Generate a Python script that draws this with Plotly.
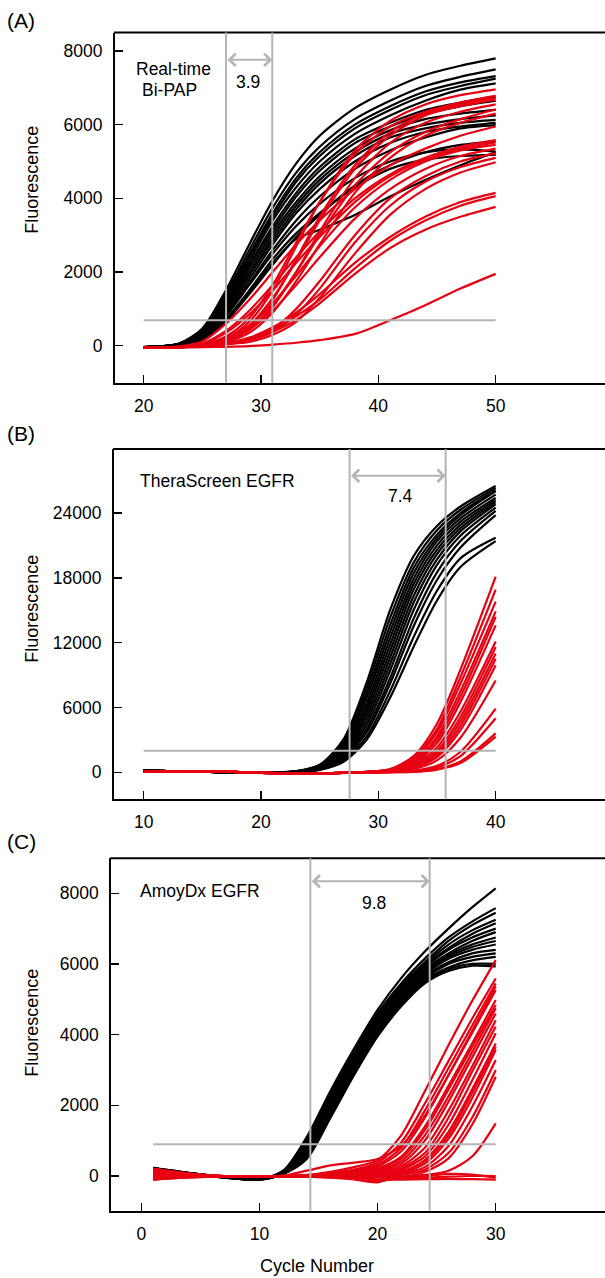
import plotly.graph_objects as go

W, H = 605, 1278

# ---------------- data ----------------
CYC_A = [20, 23, 25, 27, 29, 31, 33, 35, 38, 41, 44, 47, 50]
A_BLACK = [
    [-40, 60, 470, 1500, 2750, 3950, 4950, 5700, 6450, 6950, 7350, 7600, 7800],
    [-40, 55, 430, 1400, 2600, 3750, 4700, 5400, 6150, 6650, 7050, 7300, 7500],
    [-40, 50, 400, 1320, 2480, 3600, 4550, 5250, 6000, 6500, 6900, 7150, 7320],
    [-40, 50, 380, 1250, 2400, 3500, 4450, 5150, 5900, 6400, 6800, 7050, 7250],
    [-40, 45, 360, 1200, 2300, 3400, 4300, 5000, 5750, 6250, 6650, 6950, 7120],
    [-40, 45, 340, 1150, 2200, 3250, 4150, 4850, 5600, 6050, 6400, 6600, 6760],
    [-40, 40, 320, 1100, 2150, 3150, 4050, 4750, 5500, 5950, 6300, 6500, 6650],
    [-40, 40, 300, 1050, 2050, 3050, 3900, 4600, 5350, 5850, 6150, 6300, 6400],
    [-40, 35, 290, 1000, 1950, 2950, 3800, 4500, 5250, 5750, 6000, 6150, 6250],
    [-40, 35, 270, 950, 1900, 2850, 3700, 4400, 5150, 5650, 5900, 6050, 6130],
    [-40, 30, 250, 900, 1800, 2750, 3600, 4250, 5000, 5500, 5800, 5950, 6050],
    [-40, 30, 230, 850, 1700, 2600, 3400, 4050, 4800, 5300, 5650, 5900, 5990],
    [-40, 25, 210, 800, 1650, 2500, 3250, 3850, 4550, 5000, 5250, 5330, 5270],
    [-40, 25, 190, 720, 1500, 2350, 3050, 3600, 4300, 4800, 5050, 5150, 5180],
    [-40, 20, 180, 700, 1450, 2250, 2900, 3150, 3550, 4050, 4500, 4900, 5250],
    [-40, 20, 170, 650, 1400, 2200, 2950, 3550, 4350, 4900, 5250, 5450, 5550],
]
A_RED = [
    [-60, -40, 20, 200, 650, 1500, 2700, 3900, 5300, 6100, 6550, 6800, 6960],
    [-60, -40, 30, 250, 750, 1650, 2800, 3900, 5200, 5950, 6350, 6600, 6780],
    [-60, -40, 10, 150, 500, 1250, 2350, 3500, 4900, 5800, 6300, 6550, 6720],
    [-60, -40, 20, 180, 550, 1300, 2300, 3400, 4800, 5700, 6250, 6500, 6680],
    [-60, -40, 0, 120, 420, 1050, 2000, 3100, 4550, 5500, 6050, 6350, 6550],
    [-60, -40, 10, 140, 450, 1100, 2000, 3000, 4350, 5250, 5800, 6150, 6420],
    [-60, -40, 0, 100, 350, 900, 1750, 2750, 4150, 5100, 5700, 6050, 6300],
    [-60, -20, 120, 600, 1250, 2000, 2750, 3400, 4250, 4900, 5350, 5700, 5950],
    [-60, -30, 60, 400, 950, 1650, 2400, 3100, 4000, 4650, 5100, 5400, 5580],
    [-60, -30, 50, 350, 850, 1500, 2250, 2950, 3900, 4600, 5050, 5350, 5520],
    [-60, -40, 20, 200, 550, 1150, 1900, 2700, 3750, 4500, 5000, 5300, 5450],
    [-60, -40, 10, 150, 450, 950, 1650, 2400, 3450, 4250, 4800, 5150, 5350],
    [-60, -40, 0, 80, 200, 450, 1000, 1750, 3000, 4000, 4600, 5000, 5220],
    [-60, -40, 0, 60, 150, 380, 850, 1550, 2800, 3800, 4450, 4850, 5100],
    [-60, -40, -10, 40, 100, 300, 650, 1300, 2500, 3550, 4250, 4700, 4980],
    [-60, -40, 0, 60, 220, 500, 900, 1400, 2250, 2950, 3500, 3900, 4150],
    [-60, -40, -10, 50, 180, 430, 800, 1250, 2100, 2850, 3400, 3800, 4060],
    [-60, -40, -10, 40, 150, 370, 700, 1150, 1950, 2650, 3150, 3500, 3770],
    [-60, -50, -40, -30, -10, 30, 80, 150, 320, 690, 1100, 1550, 1950],
]

CYC_B = [10, 15, 20, 23, 25, 27, 29, 31, 33, 35, 37, 40]
B_BLACK = [
    [150, 50, -60, 100, 700, 3000, 8300, 15000, 20000, 22800, 24600, 26500],
    [150, 50, -60, 90, 650, 2800, 7800, 14300, 19400, 22400, 24300, 26300],
    [150, 50, -60, 80, 600, 2600, 7300, 13600, 18900, 22000, 24000, 26100],
    [150, 50, -60, 80, 550, 2400, 6900, 13000, 18400, 21700, 23800, 26000],
    [150, 50, -60, 70, 500, 2200, 6400, 12400, 17900, 21400, 23500, 25700],
    [150, 50, -60, 70, 450, 2000, 6000, 11800, 17400, 21000, 23200, 25400],
    [150, 50, -60, 60, 420, 1850, 5600, 11200, 16900, 20600, 22900, 25200],
    [150, 50, -60, 60, 400, 1700, 5200, 10600, 16300, 20200, 22600, 25000],
    [150, 50, -60, 50, 350, 1550, 4800, 10000, 15700, 19700, 22300, 24800],
    [150, 50, -60, 50, 320, 1400, 4400, 9400, 15000, 19200, 21900, 24500],
    [150, 50, -60, 40, 300, 1300, 4000, 8700, 14200, 18500, 21400, 24200],
    [150, 50, -60, 40, 280, 1200, 3700, 8200, 13500, 17800, 20800, 23800],
    [150, 50, -60, 30, 250, 1050, 3300, 7500, 12500, 16800, 19800, 21700],
    [150, 50, -60, 30, 220, 950, 3000, 6900, 11600, 15900, 19000, 21400],
]
B_RED = [
    [50, 100, -50, -100, -100, -50, 50, 300, 1500, 4500, 9500, 18100],
    [50, 100, -50, -100, -100, -50, 40, 250, 1300, 4000, 8800, 16900],
    [50, 100, -50, -100, -100, -50, 40, 250, 1200, 3700, 8200, 15800],
    [50, 100, -50, -100, -100, -50, 30, 200, 1000, 3300, 7500, 14900],
    [50, 100, -50, -100, -100, -50, 30, 180, 900, 3000, 7000, 14400],
    [50, 100, -50, -100, -100, -50, 20, 150, 800, 2700, 6500, 13600],
    [50, 100, -50, -100, -100, -50, 20, 120, 650, 2300, 5600, 12100],
    [50, 100, -50, -100, -100, -50, 10, 100, 550, 2000, 5100, 11600],
    [50, 100, -50, -100, -100, -50, 10, 100, 500, 1800, 4700, 11000],
    [50, 100, -50, -100, -100, -50, 0, 80, 450, 1600, 4300, 10500],
    [50, 100, -50, -100, -100, -50, 0, 70, 400, 1400, 3900, 9900],
    [50, 100, -50, -100, -100, -50, 0, 60, 300, 1100, 3200, 8500],
    [50, 100, -50, -100, -100, -50, -10, 30, 150, 600, 1900, 5900],
    [50, 100, -50, -100, -100, -50, -10, 20, 100, 450, 1500, 5000],
    [50, 100, -50, -100, -100, -50, -10, 10, 60, 300, 1000, 3600],
    [50, 100, -50, -100, -100, -50, -20, 0, 40, 250, 850, 3300],
]

CYC_C = [1, 4, 7, 10, 12, 14, 16, 18, 20, 22, 24, 26, 28, 30]
C_BLACK = [
    [230, 90, -20, -80, 150, 1100, 2400, 3600, 4700, 5600, 6350, 7000, 7600, 8140],
    [230, 90, -20, -80, 140, 1000, 2300, 3500, 4600, 5450, 6150, 6750, 7200, 7580],
    [220, 85, -25, -85, 130, 950, 2200, 3450, 4550, 5400, 6050, 6650, 7100, 7450],
    [220, 85, -25, -85, 120, 900, 2150, 3400, 4500, 5350, 6000, 6550, 6950, 7250],
    [210, 80, -30, -90, 110, 850, 2100, 3350, 4450, 5300, 5950, 6450, 6850, 7150],
    [210, 80, -30, -90, 100, 800, 2050, 3300, 4400, 5250, 5900, 6400, 6750, 7000],
    [200, 75, -30, -90, 95, 760, 2000, 3250, 4350, 5200, 5850, 6300, 6650, 6900],
    [200, 75, -35, -95, 90, 720, 1950, 3200, 4300, 5150, 5800, 6250, 6550, 6750],
    [190, 70, -35, -95, 85, 680, 1900, 3150, 4250, 5100, 5750, 6200, 6480, 6650],
    [190, 70, -35, -95, 80, 640, 1850, 3100, 4200, 5050, 5700, 6150, 6400, 6550],
    [180, 65, -40, -100, 75, 600, 1800, 3050, 4150, 5000, 5650, 6050, 6300, 6400],
    [180, 65, -40, -100, 70, 570, 1760, 3000, 4100, 4950, 5600, 6000, 6200, 6300],
    [170, 60, -40, -100, 65, 540, 1720, 2950, 4050, 4900, 5550, 5900, 6100, 6200],
    [170, 60, -45, -100, 60, 510, 1680, 2900, 4000, 4850, 5500, 5850, 6000, 6000],
    [160, 55, -45, -105, 55, 480, 1640, 2850, 3950, 4800, 5450, 5800, 5950, 5930],
]
C_RED = [
    [150, 60, 0, -20, 0, 30, 120, 250, 450, 1150, 2400, 3700, 4950, 6110],
    [100, 40, -10, -20, 0, 20, 80, 180, 380, 950, 2050, 3250, 4450, 5590],
    [50, 20, -10, -20, 0, 20, 60, 150, 320, 800, 1850, 3050, 4250, 5450],
    [0, 10, -10, -20, 0, 10, 50, 120, 270, 700, 1650, 2850, 4100, 5360],
    [200, 70, 0, -10, 10, 150, 300, 380, 480, 850, 1700, 2850, 4050, 5260],
    [-50, -20, -10, -20, 0, 10, 40, 100, 220, 550, 1400, 2550, 3750, 4980],
    [120, 50, 0, -20, 0, 10, 40, 90, 200, 500, 1300, 2450, 3650, 4840],
    [-80, -30, -10, -20, -10, 0, 30, 80, 170, 420, 1150, 2250, 3500, 4750],
    [80, 30, -10, -20, -10, 0, 20, 60, 140, 350, 1000, 2100, 3350, 4600],
    [-30, -10, -10, -20, -10, 0, 20, 50, 100, 280, 800, 1850, 3100, 4410],
    [180, 60, 0, -20, -10, -10, 0, 20, 80, 220, 650, 1650, 2950, 4230],
    [30, 10, -10, -20, -10, -10, 0, 10, 50, 170, 550, 1450, 2700, 4040],
    [-100, -40, -20, -20, -10, -20, -50, -100, -180, 80, 450, 1250, 2450, 3750],
    [60, 20, -10, -20, -10, -10, 0, 10, 30, 120, 420, 1150, 2350, 3660],
    [-60, -20, -10, -20, -10, -10, -10, 0, 20, 90, 350, 1050, 2200, 3570],
    [140, 50, 0, -20, -10, -10, -10, -20, 0, 60, 250, 850, 1950, 3280],
    [10, 0, -10, -20, -10, -10, -10, -20, -20, 30, 180, 650, 1650, 3000],
    [-90, -30, -10, -20, -10, -20, -40, -80, -150, -50, 120, 500, 1450, 2810],
    [90, 30, -10, -20, -10, -10, -10, -20, -30, -20, 30, 150, 550, 1490],
    [200, 70, 0, -20, -10, -10, -10, -20, -30, -20, 0, 60, 40, -50],
    [-100, -40, -10, -20, -10, -10, -30, -60, -100, -100, -90, -80, -90, -100],
    [0, 0, -10, -20, -10, -10, -10, -20, -40, -60, -50, -20, 0, 0],
]

PANEL_LABELS = ["(A)", "(B)", "(C)"]
ASSAY_NAMES = [["Real-time", "Bi-PAP"], ["TheraScreen EGFR"], ["AmoyDx EGFR"]]
DELTA_TEXT = ["3.9", "7.4", "9.8"]
CT_LINES = [[27.02, 30.96], [27.55, 35.74], [14.31, 24.41]]
THRESHOLDS = [690, 2000, 897]
THRESH_SPAN = [[20, 50], [10, 40], [1, 30]]
ARROW_Y = [7760, 27450, 8340]
X_TICKS = [[20, 30, 40, 50], [10, 20, 30, 40], [0, 10, 20, 30]]
Y_TICKS = [[0, 2000, 4000, 6000, 8000], [0, 6000, 12000, 18000, 24000],
           [0, 2000, 4000, 6000, 8000]]
X_RANGES = [[17.554, 59.32], [7.469, 49.32], [-2.54, 39.25]]
Y_RANGES = [[-1004, 8502], [-2500, 29924], [-982, 8990]]
X_TITLE = "Cycle Number"
Y_TITLE = "Fluorescence"

# ---------------- layout geometry (pixels) ----------------
PLOT_BOX = [  # left, top, bottom
    (115.0, 32.5, 382.7),
    (114.0, 449.0, 799.3),
    (111.3, 858.3, 1210.7),
]

BLACK = "#000000"
RED = "#E60012"
GRAY = "#B4B4B4"
FONT = "Liberation Sans, Arial, sans-serif"
FS = 17.5


def px(x):
    return x / W


def py(y):
    return 1 - y / H


fig = go.Figure()
panels = [
    (CYC_A, A_BLACK, A_RED),
    (CYC_B, B_BLACK, B_RED),
    (CYC_C, C_BLACK, C_RED),
]

annotations = []
shapes = []
for i, (cyc, blk, red) in enumerate(panels):
    xa = "x" if i == 0 else f"x{i+1}"
    ya = "y" if i == 0 else f"y{i+1}"
    for series, col in ((blk, BLACK), (red, RED)):
        for vals in series:
            fig.add_trace(go.Scatter(
                x=cyc, y=vals, mode="lines", xaxis=xa, yaxis=ya,
                line=dict(color=col, width=2.2, shape="spline", smoothing=0.8),
                showlegend=False, hoverinfo="skip"))

    left, top, bottom = PLOT_BOX[i]
    axn = "" if i == 0 else str(i + 1)
    fig.update_layout(**{
        f"xaxis{axn}": dict(
            domain=[px(left), 1.0], anchor=ya, range=X_RANGES[i],
            tickvals=X_TICKS[i], ticktext=[str(v) for v in X_TICKS[i]],
            ticks="inside", ticklen=8, tickwidth=1.5, tickcolor=BLACK,
            showline=True, linecolor=BLACK, linewidth=2, mirror=False,
            showgrid=False, zeroline=False, automargin=False,
            tickfont=dict(family=FONT, size=FS, color=BLACK),
            ticklabelstandoff=6),
        f"yaxis{axn}": dict(
            domain=[py(bottom), py(top)], anchor=xa, range=Y_RANGES[i],
            tickvals=Y_TICKS[i], ticktext=[str(v) for v in Y_TICKS[i]],
            ticks="inside", ticklen=8, tickwidth=1.5, tickcolor=BLACK,
            showline=True, linecolor=BLACK, linewidth=2, mirror=False,
            showgrid=False, zeroline=False, automargin=False,
            tickfont=dict(family=FONT, size=FS, color=BLACK),
            ticklabelstandoff=7),
    })

    # top frame line (open on the right)
    shapes.append(dict(type="line", xref="paper", yref=f"{ya} domain",
                       layer="above", x0=px(left - 1), x1=1.0, y0=1, y1=1,
                       line=dict(color=BLACK, width=2)))
    # threshold line
    shapes.append(dict(type="line", xref=xa, yref=ya, layer="above",
                       x0=THRESH_SPAN[i][0], x1=THRESH_SPAN[i][1],
                       y0=THRESHOLDS[i], y1=THRESHOLDS[i],
                       line=dict(color=GRAY, width=2)))
    # Ct lines
    for c in CT_LINES[i]:
        shapes.append(dict(type="line", xref=xa, yref=f"{ya} domain",
                           layer="above", x0=c, x1=c, y0=0, y1=1,
                           line=dict(color=GRAY, width=2)))
    # double arrow
    annotations.append(dict(
        x=CT_LINES[i][1], y=ARROW_Y[i], ax=CT_LINES[i][0], ay=ARROW_Y[i],
        xref=xa, yref=ya, axref=xa, ayref=ya, text="", showarrow=True,
        arrowside="end+start", arrowhead=4, arrowsize=1.2, arrowwidth=2,
        arrowcolor=GRAY, standoff=0, startstandoff=0))

# delta texts
delta_pos = [(248, 81.7), (400, 495.5), (374, 902.5)]
for t, (x, y) in zip(DELTA_TEXT, delta_pos):
    annotations.append(dict(x=px(x), y=py(y), xref="paper", yref="paper",
                            text=t, showarrow=False, xanchor="center",
                            yanchor="middle",
                            font=dict(family=FONT, size=FS, color=BLACK)))

# assay names
annotations.append(dict(x=px(173.3), y=py(69), xref="paper", yref="paper",
                        text=ASSAY_NAMES[0][0], showarrow=False,
                        xanchor="center", yanchor="middle",
                        font=dict(family=FONT, size=FS, color=BLACK)))
annotations.append(dict(x=px(169.8), y=py(90), xref="paper", yref="paper",
                        text=ASSAY_NAMES[0][1], showarrow=False,
                        xanchor="center", yanchor="middle",
                        font=dict(family=FONT, size=FS, color=BLACK)))
annotations.append(dict(x=px(137.5), y=py(481), xref="paper", yref="paper",
                        text=ASSAY_NAMES[1][0], showarrow=False,
                        xanchor="left", yanchor="middle",
                        font=dict(family=FONT, size=FS, color=BLACK)))
annotations.append(dict(x=px(137.5), y=py(891), xref="paper", yref="paper",
                        text=ASSAY_NAMES[2][0], showarrow=False,
                        xanchor="left", yanchor="middle",
                        font=dict(family=FONT, size=FS, color=BLACK)))

# panel labels
for lab, y in zip(PANEL_LABELS, [20, 433, 841.7]):
    annotations.append(dict(x=px(5), y=py(y), xref="paper", yref="paper",
                            text=lab, showarrow=False, xanchor="left",
                            yanchor="middle",
                            font=dict(family=FONT, size=21, color=BLACK)))

# axis titles
for y in [180, 609, 1023]:
    annotations.append(dict(x=px(31.7), y=py(y), xref="paper", yref="paper",
                            text=Y_TITLE, showarrow=False, textangle=-90,
                            xanchor="center", yanchor="middle",
                            font=dict(family=FONT, size=18, color=BLACK)))
annotations.append(dict(x=px(317), y=py(1265.5), xref="paper", yref="paper",
                        text=X_TITLE, showarrow=False, xanchor="center",
                        yanchor="middle",
                        font=dict(family=FONT, size=18, color=BLACK)))

fig.update_layout(
    width=W, height=H, autosize=False,
    margin=dict(l=0, r=0, t=0, b=0, pad=0),
    paper_bgcolor="white", plot_bgcolor="white",
    showlegend=False, annotations=annotations, shapes=shapes,
    font=dict(family=FONT, color=BLACK),
    hovermode=False,
)

fig.write_html(
    "out.html",
    config={"displayModeBar": False, "staticPlot": True},
    post_script="document.body.style.margin='0';"
                "document.body.style.overflow='hidden';",
)
